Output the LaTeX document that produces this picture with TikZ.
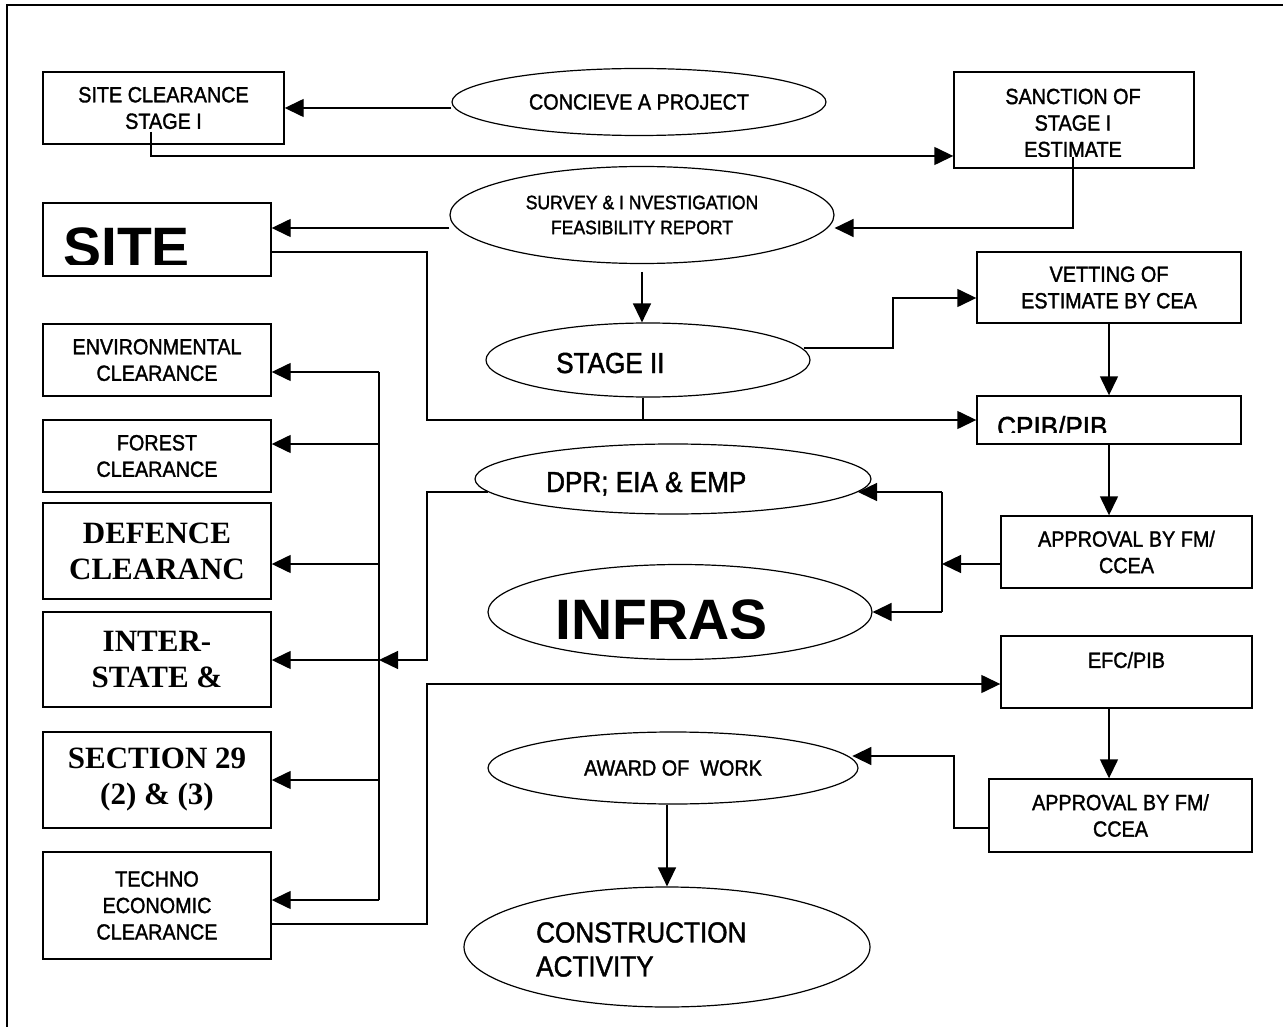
\documentclass[tikz,border=0pt]{standalone}
\usepackage{fontspec}
\setmainfont{Liberation Sans}[FakeStretch=0.9, FakeBold=1.5]
\newfontfamily\widefont{Liberation Sans}
\newfontfamily\romanfont{Liberation Serif}
\usetikzlibrary{shapes.geometric, arrows.meta}

\begin{document}
\begin{tikzpicture}[
    x=1pt, y=-1pt,
    box/.style={rectangle, draw, line width=1.4pt, inner sep=0pt, align=center, font=\fontsize{22}{26.5}\selectfont},
    serifbox/.style={box, font=\romanfont\bfseries\fontsize{31}{36}\selectfont},
    oval/.style={ellipse, draw, line width=1.2pt, inner sep=0pt, align=center, font=\fontsize{22}{26.5}\selectfont},
    plaintext/.style={inner sep=0pt, align=center, font=\fontsize{22}{26.5}\selectfont},
    bigtext/.style={inner sep=0pt, align=left, anchor=west, font=\fontsize{29}{34}\selectfont},
    hugetext/.style={inner sep=0pt, anchor=base west, font=\widefont\bfseries\fontsize{57}{60}\selectfont},
    arrow/.style={-{Triangle[length=19pt, width=18pt]}, line width=1.4pt},
    wire/.style={line width=1.4pt}
]
\useasboundingbox (0,0) rectangle (1283,1027);
\draw[wire] (7,1027) -- (7,5) -- (1283,5);

\node[box, minimum width=241pt, minimum height=72pt] (scl) at (163.5,108) {SITE CLEARANCE\\STAGE I};

\node[oval, minimum width=374pt, minimum height=67pt] (concieve) at (639,102) {CONCIEVE A PROJECT};

\node[box, minimum width=240pt, minimum height=96pt] (sanction) at (1074,120) {};
\begin{scope}
    \clip (955,73) rectangle (1193,157);
    \node[plaintext] (sanctiontxt) at (1073,123) {SANCTION OF\\STAGE I\\ESTIMATE};
\end{scope}

\node[oval, minimum width=384pt, minimum height=97pt, font=\fontsize{19.5}{25}\selectfont] (survey) at (642,215) {SURVEY \& I NVESTIGATION\\FEASIBILITY REPORT};

\node[box, minimum width=228pt, minimum height=73pt] (site) at (157,239.5) {};
\begin{scope}
    \clip (44,204) rectangle (270,265);
    \node[hugetext] (sitetxt) at (63,268) {SITE};
\end{scope}

\node[box, minimum width=264pt, minimum height=71pt] (vetting) at (1109,287.5) {VETTING OF\\ESTIMATE BY CEA};

\node[oval, minimum width=324pt, minimum height=74pt] (stage) at (648,360) {};
\node[bigtext, anchor=base west] (stagetxt) at (556,373) {STAGE II};

\node[box, minimum width=264pt, minimum height=48pt] (cpib) at (1109,420) {};
\begin{scope}
    \clip (978,397) rectangle (1240,432);
    \node[bigtext, anchor=base west] (cpibtxt) at (997,437) {CPIB/PIB};
\end{scope}

\node[oval, minimum width=396pt, minimum height=70pt] (dpr) at (673,479) {};
\node[bigtext, anchor=base west] (dprtxt) at (546,492) {DPR; EIA \& EMP};

\node[box, minimum width=251pt, minimum height=72pt] (appr1) at (1126.5,552) {APPROVAL BY FM/\\CCEA};

\node[oval, minimum width=384pt, minimum height=95pt] (infras) at (680,612) {};
\begin{scope}
    \clip (490,566) rectangle (870,638);
    \node[hugetext] (infrastxt) at (555,639) {INFRAS};
\end{scope}

\node[box, minimum width=251pt, minimum height=72pt] (efc) at (1126.5,672) {};
\node[plaintext] (efctxt) at (1126.5,660) {EFC/PIB};

\node[oval, minimum width=370pt, minimum height=72pt] (award) at (673,768) {AWARD OF\ \ WORK};

\node[box, minimum width=263pt, minimum height=73pt] (appr2) at (1120.5,815.5) {APPROVAL BY FM/\\CCEA};

\node[oval, minimum width=406pt, minimum height=120pt] (cons) at (667,947) {};
\node[bigtext] (constxt) at (536,949.5) {CONSTRUCTION\\ACTIVITY};

\node[box, minimum width=228pt, minimum height=72pt] (env) at (157,360) {ENVIRONMENTAL\\CLEARANCE};
\node[box, minimum width=228pt, minimum height=72pt] (forest) at (157,456) {FOREST\\CLEARANCE};
\node[serifbox, minimum width=228pt, minimum height=96pt] (defence) at (157,551) {DEFENCE\\CLEARANC};
\node[serifbox, minimum width=228pt, minimum height=95pt] (inter) at (157,659.5) {INTER-\\STATE \&};
\node[serifbox, minimum width=228pt, minimum height=96pt] (section) at (157,780) {SECTION 29\\(2) \& (3)};
\node[box, minimum width=228pt, minimum height=107pt] (techno) at (157,905.5) {TECHNO\\ECONOMIC\\CLEARANCE};

\coordinate (sclout) at (151,132);
\coordinate (sanctionout) at (1073,157);

\draw[arrow] (concieve.west |- 0,108) -- (scl.east |- 0,108);
\draw[arrow] (sclout) |- (sanction.west |- 0,156);
\draw[arrow] (sanctionout) |- (survey.east |- 0,228);
\draw[arrow] (survey.west |- 0,228) -- (site.east |- 0,228);
\draw[arrow] (site.east |- 0,252) -| (427,420) -- (cpib.west |- 0,420);
\draw[arrow] (survey.south |- 0,272) -- (survey.south |- stage.north);
\draw[arrow] (stage.4.5 |- 0,348) -| (893,298) -- (vetting.west |- 0,298);
\draw[wire] (stage.south -| 643,0) -- (643,420);
\draw[arrow] (vetting.south) -- (cpib.north);
\draw[arrow] (cpib.south) -- (cpib.south |- appr1.north);
\draw[arrow] (appr1.west |- 0,564) -- (942,564);
\draw[wire] (942,492) -- (942,612);
\draw[arrow] (942,492) -- (dpr.-4 |- 0,492);
\draw[arrow] (942,612) -- (infras.east);
\draw[arrow] (dpr.184 |- 0,492) -| (427,660) -- (379,660);
\draw[wire] (379,372) -- (379,900);
\foreach \b/\y in {env/372, forest/444, defence/564, inter/660, section/780, techno/900}
    \draw[arrow] (379,\y) -- (\b.east |- 0,\y);
\draw[arrow] (techno.east |- 0,924) -| (427,684) -- (efc.west |- 0,684);
\draw[arrow] (efc.south -| 1109,0) -- (appr2.north -| 1109,0);
\draw[arrow] (appr2.west |- 0,828) -| (954,756) -- (award.3.9 |- 0,756);
\draw[arrow] (award.south -| 667,0) -- (cons.north);

\end{tikzpicture}
\end{document}
